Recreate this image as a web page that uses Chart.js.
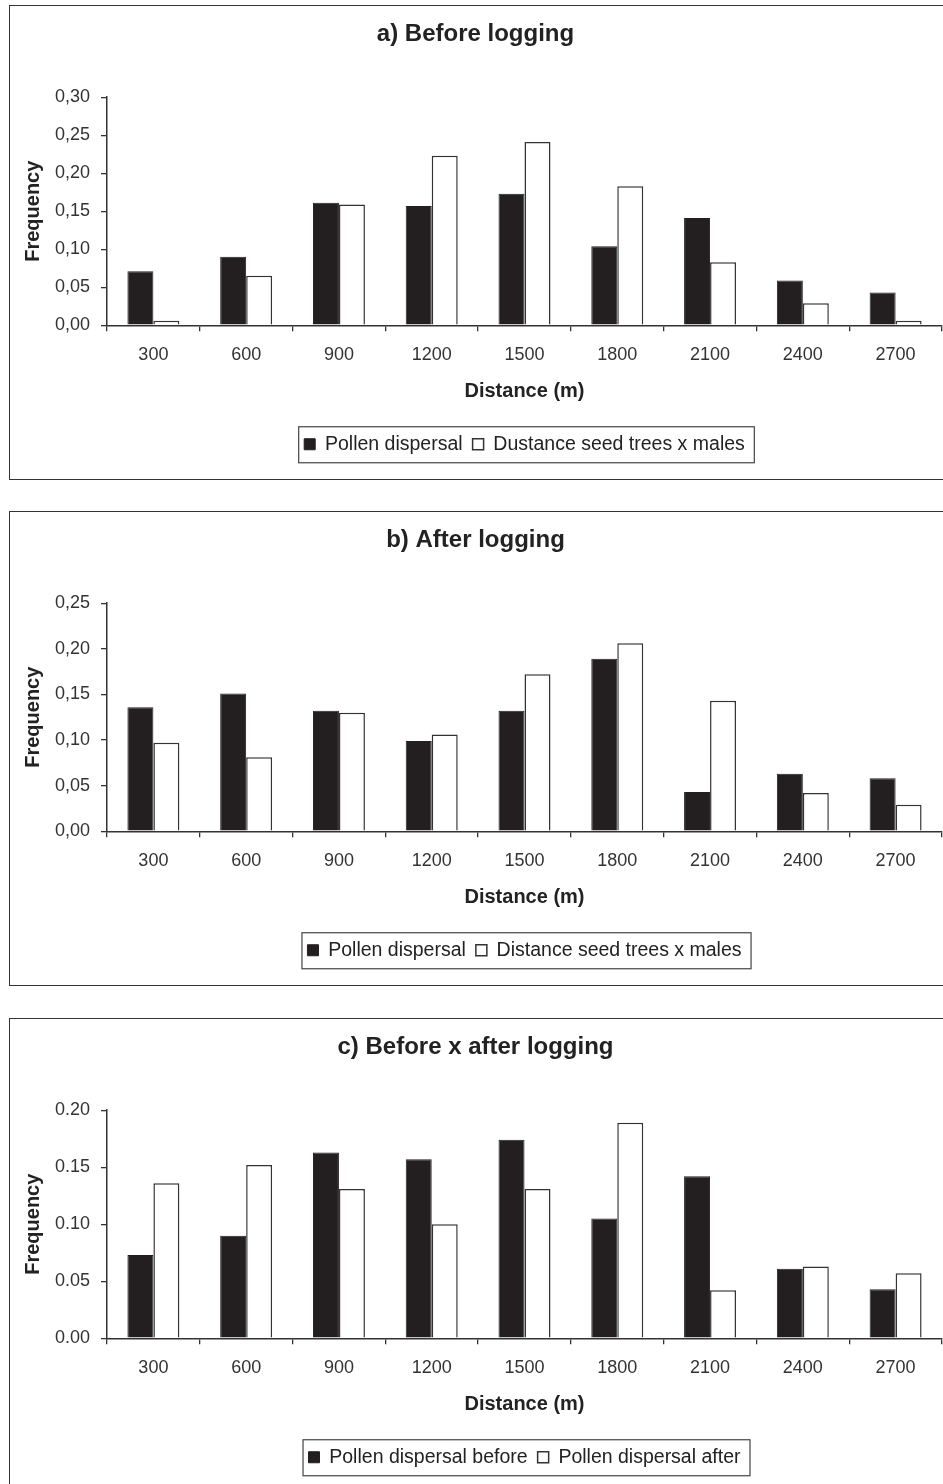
<!DOCTYPE html>
<html lang="en">
<head>
    <meta charset="UTF-8">
    <title>Pollen dispersal distances</title>
    <script src="https://cdn.jsdelivr.net/npm/chart.js"></script>
    <style>
        html, body { margin: 0; padding: 0; background: #fff; overflow: hidden; width: 943px; height: 1484px; }
        .panel { position: absolute; left: 9px; width: 980px; height: 475px; box-sizing: border-box; border: 1.5px solid #333; }
        canvas { position: absolute; left: 9px; }
    </style>
</head>
<body>
    <div class="panel" style="top:5px"></div>
    <div class="panel" style="top:511px"></div>
    <div class="panel" style="top:1018px"></div>
    <canvas id="chartA" width="934" height="475" style="top:5px"></canvas>
    <canvas id="chartB" width="934" height="475" style="top:511px"></canvas>
    <canvas id="chartC" width="934" height="475" style="top:1018px"></canvas>

    <script>
        const distances = ['300', '600', '900', '1200', '1500', '1800', '2100', '2400', '2700'];

        // a) before logging
        const beforePollen = [0.071, 0.090, 0.161, 0.157, 0.173, 0.104, 0.141, 0.059, 0.043];
        const beforeSeedMales = [0.006, 0.065, 0.159, 0.223, 0.241, 0.183, 0.083, 0.029, 0.006];

        // b) after logging
        const afterPollen = [0.136, 0.151, 0.132, 0.099, 0.132, 0.189, 0.043, 0.063, 0.058];
        const afterSeedMales = [0.097, 0.081, 0.130, 0.106, 0.172, 0.206, 0.143, 0.042, 0.029];

        // c) before x after
        const pollenBefore = [0.073, 0.090, 0.163, 0.157, 0.174, 0.105, 0.142, 0.061, 0.043];
        const pollenAfter = [0.136, 0.152, 0.131, 0.100, 0.131, 0.189, 0.042, 0.063, 0.057];

        const FONT = "'Liberation Sans', Arial, sans-serif";
        const INK = '#333';

        // box round the legend, like the original figure
        const legendFrame = {
            id: 'legendFrame',
            afterDraw(chart) {
                const boxes = chart.legend.legendHitBoxes;
                if (!boxes || !boxes.length) return;
                const left = boxes[0].left - 6;
                const last = boxes[boxes.length - 1];
                const right = last.left + last.width + 9;
                const mid = boxes[0].top + boxes[0].height / 2;
                const ctx = chart.ctx;
                ctx.save();
                ctx.strokeStyle = '#444';
                ctx.lineWidth = 1.2;
                ctx.strokeRect(left + 0.5, mid - 18 + 0.5, right - left, 36);
                ctx.restore();
            }
        };

        function makeChart(id, title, labels, darkData, lightData, yMax, comma) {
            new Chart(document.getElementById(id), {
                type: 'bar',
                data: {
                    labels: distances,
                    datasets: [{
                        label: labels[0],
                        data: darkData,
                        backgroundColor: '#231f20',
                        borderColor: '#231f20',
                        borderWidth: 1,
                        categoryPercentage: 0.56,
                        barPercentage: 1
                    }, {
                        label: labels[1],
                        data: lightData,
                        backgroundColor: '#fff',
                        borderColor: '#333',
                        borderWidth: 1.5,
                        categoryPercentage: 0.56,
                        barPercentage: 1
                    }]
                },
                options: {
                    responsive: false,
                    animation: false,
                    layout: { padding: { left: 0, right: 1, top: 0, bottom: 16 } },
                    plugins: {
                        title: {
                            display: true,
                            text: title,
                            color: '#222',
                            font: { family: FONT, size: 24, weight: 'bold' },
                            padding: { top: 15, bottom: 48.4 }
                        },
                        legend: {
                            position: 'bottom',
                            fullSize: false,
                            labels: {
                                color: '#222',
                                font: { family: FONT, size: 19.5 },
                                boxWidth: 11,
                                boxHeight: 11,
                                padding: 10
                            }
                        },
                        tooltip: { enabled: false }
                    },
                    scales: {
                        x: {
                            grid: { display: true, drawOnChartArea: false, tickLength: 6, color: INK, lineWidth: 1.3 },
                            border: { display: true, color: INK, width: 1.5 },
                            ticks: { color: INK, font: { family: FONT, size: 18 }, padding: 13, maxRotation: 0, autoSkip: false },
                            title: {
                                display: true,
                                text: 'Distance (m)',
                                color: '#222',
                                font: { family: FONT, size: 20, weight: 'bold' },
                                padding: { top: 0, bottom: 21.3 }
                            },
                            afterFit(scale) { scale.height = 99.25; }
                        },
                        y: {
                            min: 0,
                            max: yMax,
                            grid: { display: true, drawOnChartArea: false, tickLength: 6, color: INK, lineWidth: 1.3 },
                            border: { display: true, color: INK, width: 1.5 },
                            ticks: {
                                stepSize: 0.05,
                                color: INK,
                                font: { family: FONT, size: 18 },
                                padding: 11,
                                callback: v => comma ? v.toFixed(2).replace('.', ',') : v.toFixed(2)
                            },
                            title: {
                                display: true,
                                text: 'Frequency',
                                color: '#222',
                                font: { family: FONT, size: 20, weight: 'bold' },
                                padding: { top: 12, bottom: 0 }
                            },
                            afterFit(scale) { scale.width = 98; }
                        }
                    }
                },
                plugins: [legendFrame]
            });
        }

        makeChart('chartA', 'a) Before logging',
            ['Pollen dispersal', 'Dustance seed trees x males'],
            beforePollen, beforeSeedMales, 0.30, true);
        makeChart('chartB', 'b) After logging',
            ['Pollen dispersal', 'Distance seed trees x males'],
            afterPollen, afterSeedMales, 0.25, true);
        makeChart('chartC', 'c) Before x after logging',
            ['Pollen dispersal before', 'Pollen dispersal after'],
            pollenBefore, pollenAfter, 0.20, false);
    </script>
</body>
</html>
